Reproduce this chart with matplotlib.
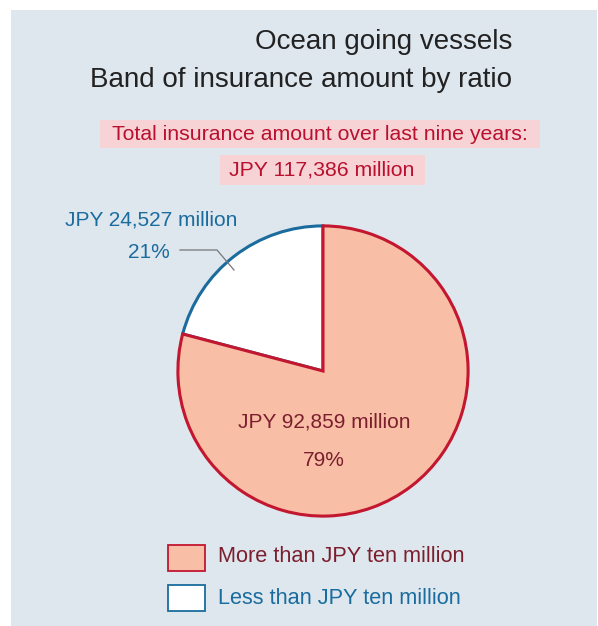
import matplotlib.pyplot as plt
from matplotlib.patches import Rectangle

plt.rcParams["font.family"] = ["Liberation Sans", "DejaVu Sans"]

# data
categories = ["Less than JPY ten million", "More than JPY ten million"]
amounts = [24527, 92859]
shares = [21, 79]
total = 117386

W, H = 598, 626
bg = "#dee6ee"
pink = "#f9bea6"
red = "#c3162f"
blue = "#1a6c9e"
darkred = "#7b1f2e"
boxpink = "#f8d3d5"


def px(x, y):
    return x / W, 1 - y / H


def rect(x, y, w, h, **kw):
    # x, y = top-left in pixels
    fig.patches.append(Rectangle(px(x, y + h), w / W, h / H, transform=fig.transFigure, **kw))


fig = plt.figure(figsize=(W / 100, H / 100), dpi=100)
rect(11, 10, 586, 616, facecolor=bg, edgecolor="none", zorder=-10)

# pie axes: centre (323, 371), radius 148 px
ax = fig.add_axes([175 / W, (H - 519) / H, 296 / W, 296 / H])
wedges, _ = ax.pie(amounts, colors=["white", pink], startangle=90, counterclock=True,
                   radius=1, wedgeprops=dict(linewidth=2.2))
wedges[0].set_edgecolor(blue)
wedges[1].set_edgecolor(red)
wedges[1].set_zorder(3)
ax.set_xlim(-1.02, 1.02)
ax.set_ylim(-1.02, 1.02)
ax.set_aspect("equal")
ax.axis("off")
for w in wedges:
    w.set_clip_on(False)

# titles
fig.text(*px(512, 42), "Ocean going vessels", ha="right", va="center", fontsize=20, color="#222222")
fig.text(*px(512, 80), "Band of insurance amount by ratio", ha="right", va="center", fontsize=20, color="#222222")

rect(100, 120, 440, 28, facecolor=boxpink, edgecolor="none")
rect(220, 155, 205, 30, facecolor=boxpink, edgecolor="none")
fig.text(*px(320, 134), "Total insurance amount over last nine years:", ha="center", va="center",
         fontsize=15.3, color="#b8102e")
fig.text(*px(322, 170), f"JPY {total:,} million", ha="center", va="center",
         fontsize=15.3, color="#b8102e")

# slice labels
fig.text(*px(237, 220), f"JPY {amounts[0]:,} million", ha="right", va="center", fontsize=15, color=blue)
fig.text(*px(170, 253), f"{shares[0]}%", ha="right", va="center", fontsize=15, color=blue)
x0, y0 = px(180, 250)
x1, y1 = px(217, 250)
x2, y2 = px(234, 270)
fig.add_artist(plt.Line2D([x0, x1, x2], [y0, y1, y2], transform=fig.transFigure,
                          color="#777777", linewidth=0.9, zorder=10))

fig.text(*px(324, 422), f"JPY {amounts[1]:,} million", ha="center", va="center", fontsize=15, color=darkred)
fig.text(*px(324, 460), f"{shares[1]}%", ha="center", va="center", fontsize=15, color=darkred)

# legend
rect(168, 545, 37, 26, facecolor=pink, edgecolor=red, linewidth=1.3)
rect(168, 585, 37, 26, facecolor="white", edgecolor=blue, linewidth=1.3)
fig.text(*px(218, 557), categories[1], ha="left", va="center", fontsize=15.7, color=darkred)
fig.text(*px(218, 598), categories[0], ha="left", va="center", fontsize=15.7, color=blue)

fig.savefig("out.png", dpi=100, facecolor="white")
